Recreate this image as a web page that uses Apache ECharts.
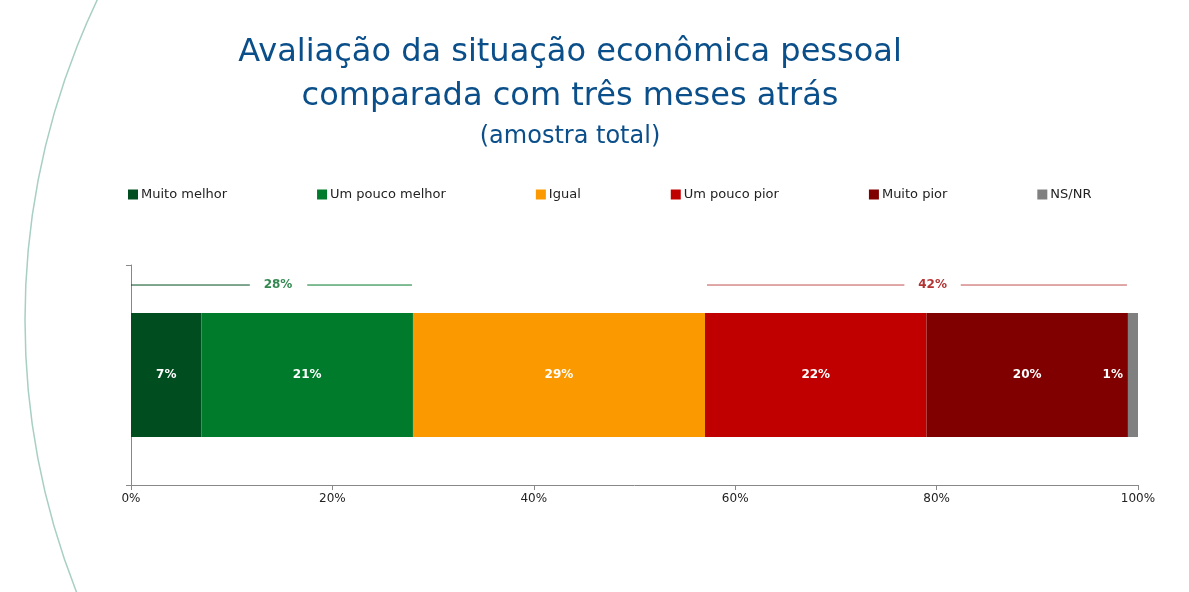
<!DOCTYPE html>
<html>
<head>
<meta charset="utf-8">
<script src="https://cdn.jsdelivr.net/npm/echarts@6/dist/echarts.min.js"></script>
</head>
<body style="margin:0">
<div id="container" style="width:1189px;height:592px"></div>
<script>
var categories = ['Muito melhor', 'Um pouco melhor', 'Igual', 'Um pouco pior', 'Muito pior', 'NS/NR'];
var values = [7, 21, 29, 22, 20, 1];
var colors = ['#004d1f', '#007a2b', '#fa9a00', '#c00000', '#800000', '#808080'];
var groupLabels = ['28%', '42%'];
var xTicks = [0, 20, 40, 60, 80, 100];

var chart = echarts.init(document.getElementById('container'));
var font = 'DejaVu Sans';
var series = categories.map(function (name, i) {
    return {
        name: name, type: 'bar', stack: 'total', barWidth: 124,
        itemStyle: { color: colors[i] },
        label: {
            show: true, color: '#fff', fontWeight: 'bold', fontSize: 12, fontFamily: font,
            position: i === categories.length - 1 ? 'left' : 'inside',
            formatter: '{c}%'
        },
        data: [values[i]]
    };
});
var by = 0.909;
function seg(a, b, c) {
    return { type: 'line', xAxisIndex: 0, yAxisIndex: 1, symbol: 'none', silent: true,
        lineStyle: { color: c, width: 1 }, data: [[a, by], [b, by]] };
}
function lab(x, t, c) {
    return { type: 'scatter', xAxisIndex: 0, yAxisIndex: 1, symbolSize: 0, silent: true,
        label: { show: true, position: 'inside', formatter: t, color: c, fontWeight: 'bold', fontSize: 12, fontFamily: font },
        data: [[x, by]] };
}
series.push(seg(0, 11.8, '#004d1f'), seg(17.5, 27.9, '#007a2b'), lab(14.6, groupLabels[0], '#006a25'));
series.push(seg(57.2, 76.8, '#c0504d'), seg(82.4, 98.9, '#c0504d'), lab(79.6, groupLabels[1], '#a00000'));

var option = {
    backgroundColor: '#fff',
    graphic: [{ type: 'circle', shape: { cx: 770, cy: 320, r: 745 },
        style: { fill: 'none', stroke: '#a8cfc4', lineWidth: 1.5 }, silent: true, z: -1 }],
    title: {
        text: 'Avaliação da situação econômica pessoal\ncomparada com três meses atrás',
        subtext: '(amostra total)', left: 565, textAlign: 'center', top: 26, itemGap: 6,
        textStyle: { color: '#0b4f8a', fontSize: 32, fontWeight: 'normal', fontFamily: font, lineHeight: 44 },
        subtextStyle: { color: '#0b4f8a', fontSize: 24, fontFamily: font }
    },
    legend: {
        data: categories, left: 123, top: 183, itemGap: 90, itemWidth: 10, itemHeight: 10, icon: 'rect',
        textStyle: { fontSize: 13, fontFamily: font, color: '#222', padding: [0, 0, 0, -2] }
    },
    grid: { left: 131, right: 51, top: 265, bottom: 107 },
    xAxis: {
        type: 'value', min: 0, max: 100, interval: 20,
        axisLabel: { formatter: '{value}%', fontSize: 12, fontFamily: font, color: '#222' },
        axisLine: { show: true, lineStyle: { color: '#888' } }, axisTick: { show: true, lineStyle: { color: '#888' } },
        splitLine: { show: false }
    },
    yAxis: [
        { type: 'category', data: [''], axisLine: { lineStyle: { color: '#888' } }, axisTick: { show: true, alignWithLabel: false } },
        { type: 'value', min: 0, max: 1, show: false }
    ],
    series: series
};
chart.setOption(option);
</script>
</body>
</html>
